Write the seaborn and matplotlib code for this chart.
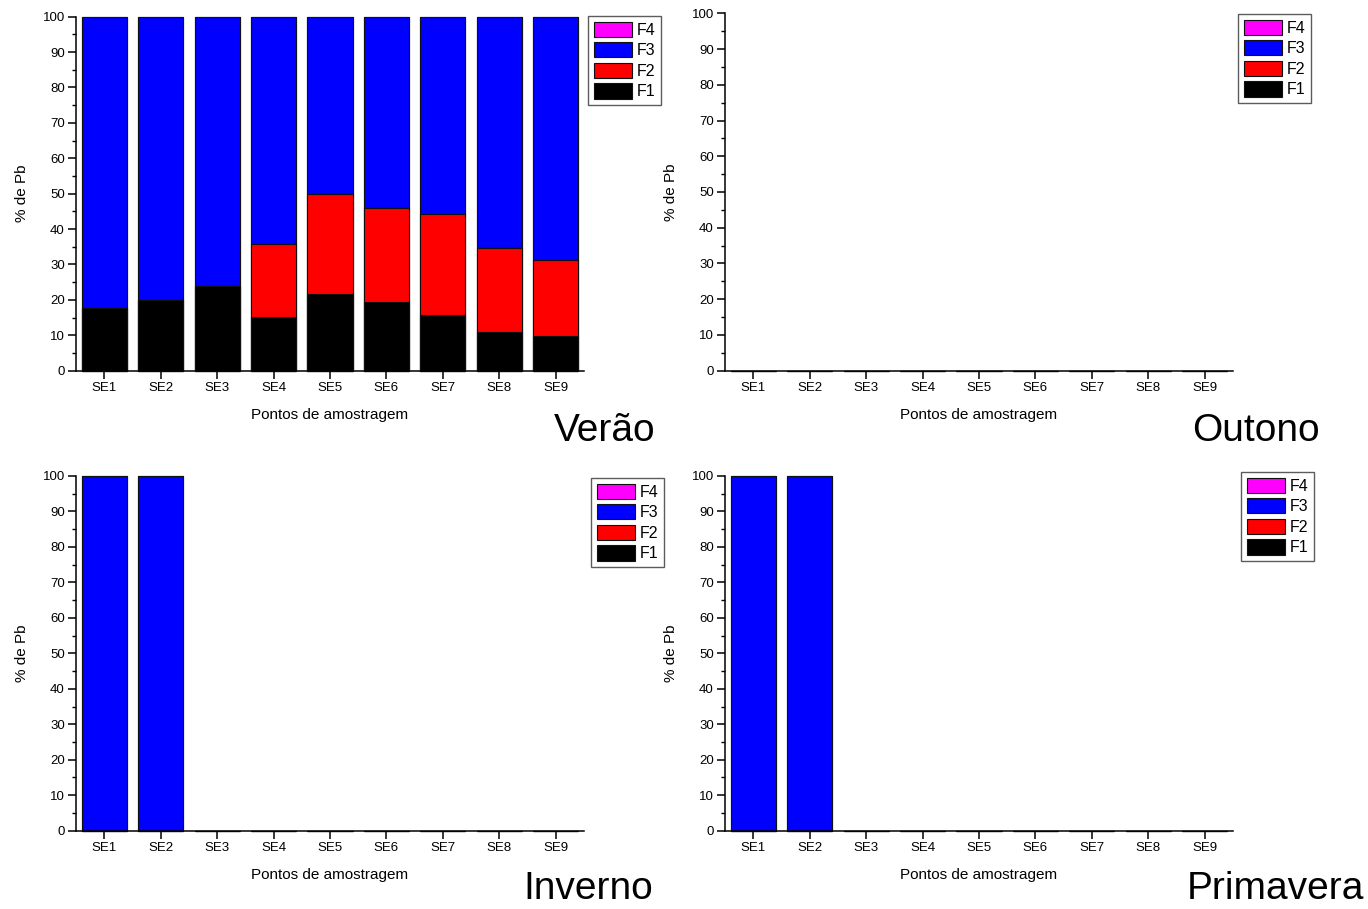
import numpy as np
import pandas as pd
import matplotlib
matplotlib.use("Agg")
import matplotlib.pyplot as plt
from matplotlib.patches import Patch
from matplotlib.ticker import MultipleLocator
import seaborn as sns

# Sampling points and fraction labels
pontos = ["SE1", "SE2", "SE3", "SE4", "SE5", "SE6", "SE7", "SE8", "SE9"]
fracoes = ["F1", "F2", "F3", "F4"]
cores = {"F1": "#000000", "F2": "#FF0000", "F3": "#0000FF", "F4": "#FF00FF"}

# Lead fractions (%) per season
verao_f1 = [17.8, 20.1, 24.0, 15.3, 21.7, 19.4, 15.6, 10.9, 9.8]
verao_f2 = [0.0, 0.0, 0.0, 20.5, 28.1, 26.6, 28.6, 23.7, 21.6]
verao_f3 = [82.2, 79.9, 76.0, 64.2, 50.2, 54.0, 55.8, 65.4, 68.6]
verao_f4 = [0.0, 0.0, 0.0, 0.0, 0.0, 0.0, 0.0, 0.0, 0.0]

outono_f1 = [0.0, 0.0, 0.0, 0.0, 0.0, 0.0, 0.0, 0.0, 0.0]
outono_f2 = [0.0, 0.0, 0.0, 0.0, 0.0, 0.0, 0.0, 0.0, 0.0]
outono_f3 = [0.0, 0.0, 0.0, 0.0, 0.0, 0.0, 0.0, 0.0, 0.0]
outono_f4 = [0.0, 0.0, 0.0, 0.0, 0.0, 0.0, 0.0, 0.0, 0.0]

inverno_f1 = [0.0, 0.0, 0.0, 0.0, 0.0, 0.0, 0.0, 0.0, 0.0]
inverno_f2 = [0.0, 0.0, 0.0, 0.0, 0.0, 0.0, 0.0, 0.0, 0.0]
inverno_f3 = [100.0, 100.0, 0.0, 0.0, 0.0, 0.0, 0.0, 0.0, 0.0]
inverno_f4 = [0.0, 0.0, 0.0, 0.0, 0.0, 0.0, 0.0, 0.0, 0.0]

primavera_f1 = [0.0, 0.0, 0.0, 0.0, 0.0, 0.0, 0.0, 0.0, 0.0]
primavera_f2 = [0.0, 0.0, 0.0, 0.0, 0.0, 0.0, 0.0, 0.0, 0.0]
primavera_f3 = [100.0, 100.0, 0.0, 0.0, 0.0, 0.0, 0.0, 0.0, 0.0]
primavera_f4 = [0.0, 0.0, 0.0, 0.0, 0.0, 0.0, 0.0, 0.0, 0.0]

estacoes = ["Verão", "Outono", "Inverno", "Primavera"]
dados = {
    "Verão": [verao_f1, verao_f2, verao_f3, verao_f4],
    "Outono": [outono_f1, outono_f2, outono_f3, outono_f4],
    "Inverno": [inverno_f1, inverno_f2, inverno_f3, inverno_f4],
    "Primavera": [primavera_f1, primavera_f2, primavera_f3, primavera_f4],
}

sns.set_style("ticks")
plt.rcParams["font.family"] = ["Liberation Sans", "DejaVu Sans"]
plt.rcParams["axes.linewidth"] = 1.1
for k in ("text.color", "axes.labelcolor", "xtick.color", "ytick.color",
          "axes.edgecolor"):
    plt.rcParams[k] = "black"

W, H = 1368, 909
fig = plt.figure(figsize=(W / 100, H / 100), dpi=100)

# panel geometry in pixels: left, right, top(y=100), bottom(y=0)
paineis = {
    "Verão": (76, 584, 16.7, 370.7),
    "Outono": (725, 1233, 13.3, 370.7),
    "Inverno": (76, 584, 476.0, 830.7),
    "Primavera": (725, 1233, 476.0, 830.7),
}
legendas = {
    "Verão": (588, 16),
    "Outono": (1238, 14),
    "Inverno": (591, 478),
    "Primavera": (1241, 472),
}
rotulos = {
    "Verão": (655, 441),
    "Outono": (1320, 441),
    "Inverno": (653, 899),
    "Primavera": (1364, 899),
}

for est in estacoes:
    l, r, t, b = paineis[est]
    ax = fig.add_axes([l / W, 1 - b / H, (r - l) / W, (b - t) / H])
    vals = dados[est]
    df = pd.DataFrame({"ponto": pontos})
    acum = np.zeros(len(pontos))
    for f, v in zip(fracoes, vals):
        acum = acum + np.asarray(v)
        df["cum_" + f] = acum
    # draw cumulative layers from the top fraction down so lower ones cover
    for f in reversed(fracoes):
        sns.barplot(data=df, x="ponto", y="cum_" + f, order=pontos,
                    color=cores[f], saturation=1, width=0.8,
                    edgecolor="#111111", linewidth=0.8, errorbar=None, ax=ax)
    for p in ax.patches:
        p.set_clip_on(False)

    ax.set_xlim(-0.5, 8.5)
    ax.set_ylim(0, 100)
    ax.yaxis.set_major_locator(MultipleLocator(10))
    ax.yaxis.set_minor_locator(MultipleLocator(5))
    ax.tick_params(axis="both", which="major", direction="out", length=5.5,
                   width=1.1, labelsize=9.5, pad=2.5, color="black",
                   labelcolor="black")
    ax.tick_params(axis="y", which="minor", direction="out", length=3,
                   width=1.0, color="black")
    sns.despine(ax=ax)
    ax.set_xlabel("Pontos de amostragem", fontsize=11, color="black")
    ax.set_ylabel("% de Pb", fontsize=11, color="black")
    ax.xaxis.set_label_coords(0.5, -0.105)
    ax.yaxis.set_label_coords(-0.092, 0.5)

    handles = [Patch(facecolor=cores[f], edgecolor="#111111", linewidth=0.8)
               for f in reversed(fracoes)]
    lx, ly = legendas[est]
    leg = fig.legend(handles, list(reversed(fracoes)), loc="upper left",
                     bbox_to_anchor=(lx / W, 1 - ly / H), fontsize=11.5,
                     frameon=True, fancybox=False, handlelength=2.4,
                     handleheight=1.1, labelspacing=0.28, borderpad=0.35,
                     handletextpad=0.3, borderaxespad=0)
    leg.get_frame().set_edgecolor("#333333")
    leg.get_frame().set_linewidth(1.0)
    for txt in leg.get_texts():
        txt.set_color("black")

    tx, ty = rotulos[est]
    fig.text(tx / W, 1 - ty / H, est, ha="right", va="baseline", fontsize=28,
             color="black")

fig.savefig("out.png", dpi=100)
